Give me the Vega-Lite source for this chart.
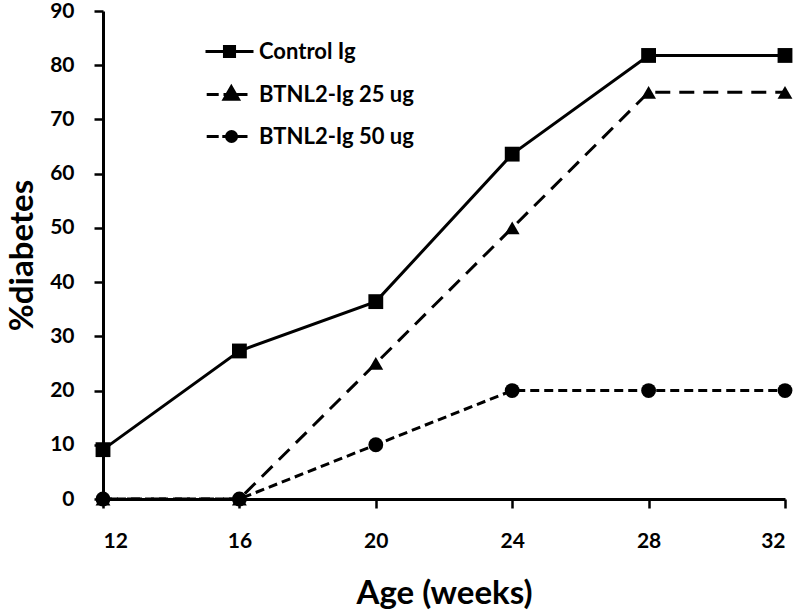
{
  "$schema": "https://vega.github.io/schema/vega-lite/v6.json",
  "width": 682,
  "height": 488,
  "autosize": "none",
  "padding": {"left": 103, "top": 11, "right": 15, "bottom": 114},
  "background": "white",
  "config": {
    "view": {"stroke": null},
    "font": "Lato",
    "axis": {
      "grid": false,
      "domainColor": "black",
      "domainWidth": 3,
      "tickColor": "black",
      "tickWidth": 2.5,
      "tickSize": 9,
      "labelFont": "Lato",
      "labelFontWeight": "bold",
      "labelFontSize": 21,
      "labelColor": "black",
      "titleFont": "Lato",
      "titleFontWeight": "bold",
      "titleFontSize": 33,
      "titleColor": "black"
    },
    "legend": {
      "orient": "none",
      "legendX": 113,
      "legendY": 27,
      "padding": 0,
      "symbolSize": 576,
      "rowPadding": 17,
      "labelOffset": 16,
      "labelFont": "Lato",
      "labelFontWeight": "bold",
      "labelFontSize": 22,
      "labelColor": "black",
      "symbolStrokeWidth": 3,
      "symbolStrokeColor": "black",
      "symbolOpacity": 1
    }
  },
  "data": {
    "values": [
      {"age": 12, "pct": 9.1, "series": "Control Ig"},
      {"age": 16, "pct": 27.3, "series": "Control Ig"},
      {"age": 20, "pct": 36.4, "series": "Control Ig"},
      {"age": 24, "pct": 63.6, "series": "Control Ig"},
      {"age": 28, "pct": 81.8, "series": "Control Ig"},
      {"age": 32, "pct": 81.8, "series": "Control Ig"},
      {"age": 12, "pct": 0, "series": "BTNL2-Ig 25 ug"},
      {"age": 16, "pct": 0, "series": "BTNL2-Ig 25 ug"},
      {"age": 20, "pct": 25, "series": "BTNL2-Ig 25 ug"},
      {"age": 24, "pct": 50, "series": "BTNL2-Ig 25 ug"},
      {"age": 28, "pct": 75, "series": "BTNL2-Ig 25 ug"},
      {"age": 32, "pct": 75, "series": "BTNL2-Ig 25 ug"},
      {"age": 12, "pct": 0, "series": "BTNL2-Ig 50 ug"},
      {"age": 16, "pct": 0, "series": "BTNL2-Ig 50 ug"},
      {"age": 20, "pct": 10, "series": "BTNL2-Ig 50 ug"},
      {"age": 24, "pct": 20, "series": "BTNL2-Ig 50 ug"},
      {"age": 28, "pct": 20, "series": "BTNL2-Ig 50 ug"},
      {"age": 32, "pct": 20, "series": "BTNL2-Ig 50 ug"}
    ]
  },
  "encoding": {
    "x": {
      "field": "age",
      "type": "quantitative",
      "scale": {"domain": [12, 32], "nice": false, "zero": false},
      "axis": {"values": [12, 16, 20, 24, 28, 32], "title": "Age (weeks)", "labelPadding": 22, "titlePadding": 26}
    },
    "y": {
      "field": "pct",
      "type": "quantitative",
      "scale": {"domain": [0, 90], "nice": false},
      "axis": {"values": [0, 10, 20, 30, 40, 50, 60, 70, 80, 90], "title": "%diabetes", "labelPadding": 20, "titlePadding": 10}
    }
  },
  "resolve": {"scale": {"shape": "independent"}, "legend": {"shape": "independent"}},
  "layer": [
    {
      "transform": [{"filter": "datum.series === 'Control Ig'"}],
      "mark": {"type": "line", "color": "black", "strokeWidth": 3},
      "encoding": {}
    },
    {
      "transform": [{"filter": "datum.series === 'BTNL2-Ig 25 ug'"}],
      "mark": {"type": "line", "color": "black", "strokeWidth": 3, "strokeDash": [15, 9]},
      "encoding": {}
    },
    {
      "transform": [{"filter": "datum.series === 'BTNL2-Ig 50 ug'"}],
      "mark": {"type": "line", "color": "black", "strokeWidth": 3, "strokeDash": [9, 5]},
      "encoding": {}
    },
    {
      "mark": {"type": "point", "filled": true, "color": "black", "opacity": 1, "size": 220},
      "encoding": {
        "shape": {
          "field": "series",
          "type": "nominal",
          "scale": {"domain": ["Control Ig", "BTNL2-Ig 25 ug", "BTNL2-Ig 50 ug"], "range": ["square", "triangle-up", "circle"]},
          "legend": null
        }
      }
    },
    {
      "transform": [{"filter": "false"}],
      "mark": {"type": "point", "filled": false, "color": "black", "opacity": 1, "strokeWidth": 3, "size": 576},
      "encoding": {
        "shape": {
          "field": "series",
          "type": "nominal",
          "scale": {
            "domain": ["Control Ig", "BTNL2-Ig 25 ug", "BTNL2-Ig 50 ug"],
            "range": [
              "M-2,0H2M-0.42,-0.42H0.42V0.42H-0.42ZM-0.18,-0.18H0.18V0.18H-0.18Z",
              "M-1.9,0H-0.9M-0.5,0H1.5M0.15,-0.65L0.75,0.4H-0.45ZM0.15,-0.25L0.4,0.2H-0.1Z",
              "M-1.9,0H-0.9M-0.6,0H1.5M-0.25,0A0.42,0.42 0 1,0 0.59,0A0.42,0.42 0 1,0 -0.25,0ZM0,0A0.17,0.17 0 1,0 0.34,0A0.17,0.17 0 1,0 0,0Z"
            ]
          },
          "legend": {"title": null}
        }
      }
    }
  ]
}
